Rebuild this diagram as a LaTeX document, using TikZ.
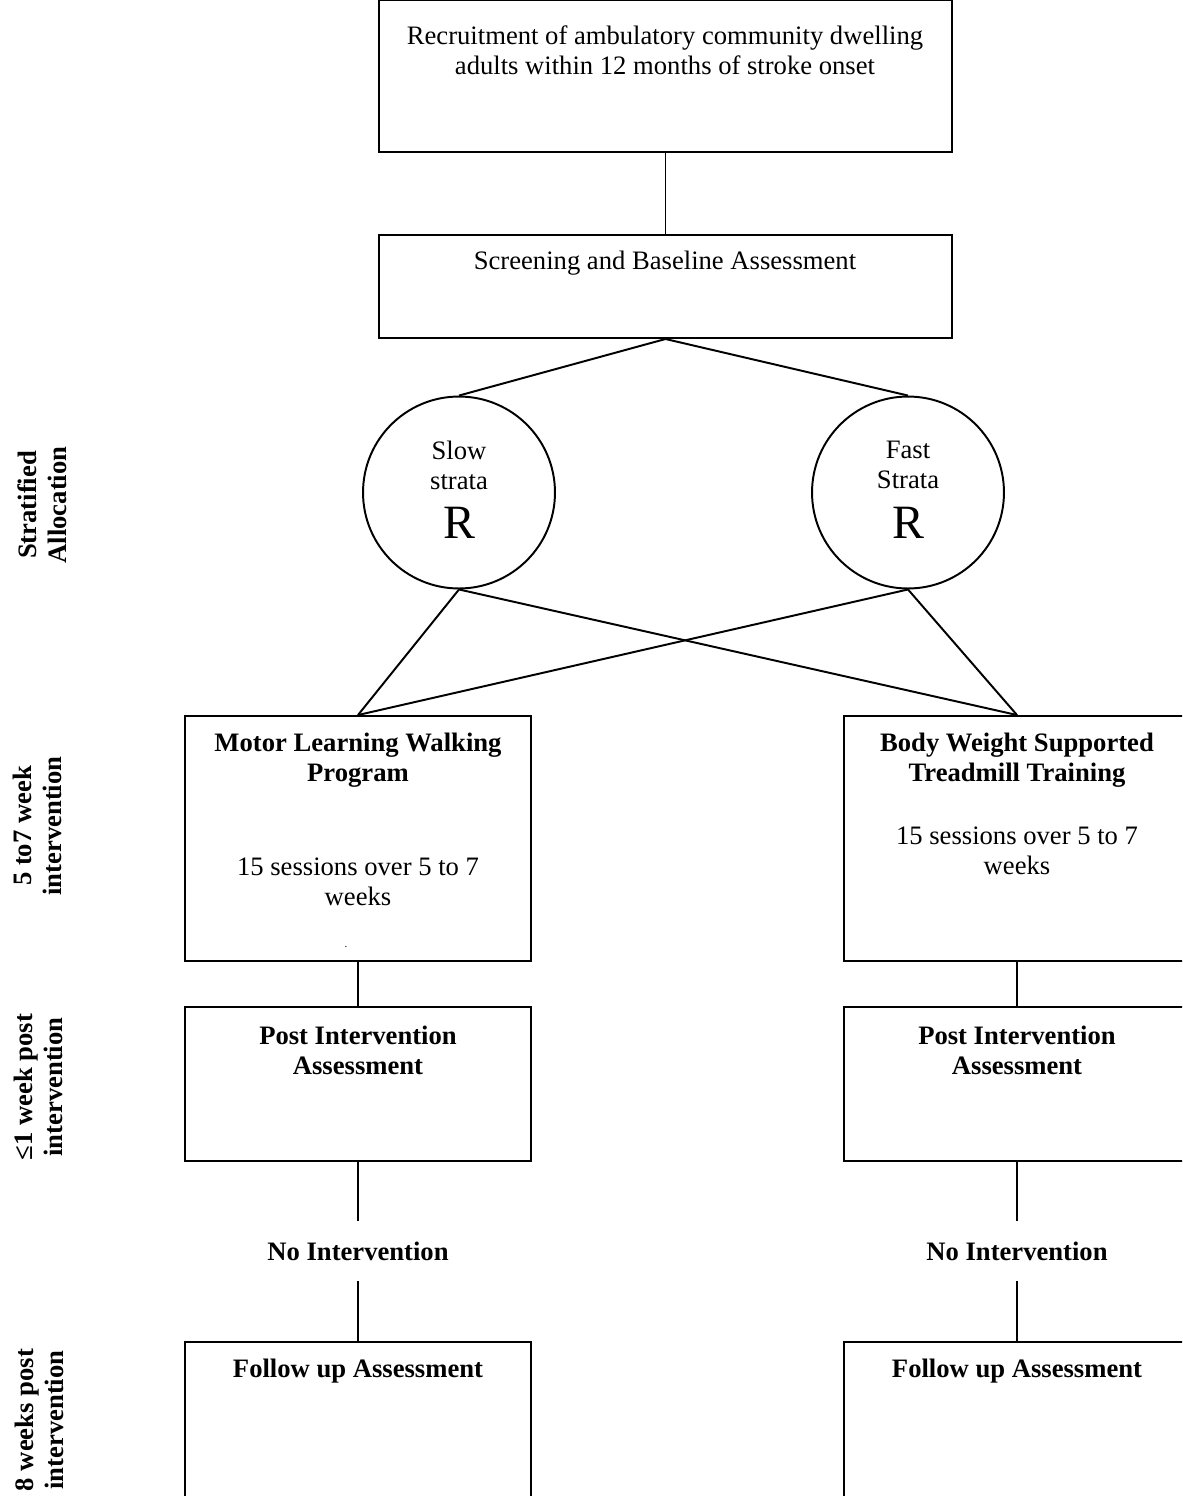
\documentclass[tikz,border=0pt]{standalone}
\usepackage{fontspec}
\setmainfont{Liberation Serif}
\usetikzlibrary{positioning}

\begin{document}
\begin{tikzpicture}[
    x=0.46pt, y=-0.46pt,
    line width=0.9pt,
    every node/.style={font=\fontsize{12.25}{13.8}\selectfont, align=center},
    widebox/.style={rectangle, draw, inner sep=0pt, minimum width=263.6pt},
    armbox/.style={rectangle, draw, inner sep=0pt, minimum width=159.2pt},
    strata/.style={circle, draw, inner sep=0pt, minimum size=88.3pt},
    heading/.style={font=\bfseries\fontsize{12.25}{13.8}\selectfont},
    phase/.style={rotate=90, font=\bfseries\fontsize{12.25}{13.8}\selectfont},
    pause/.style={inner sep=0pt, minimum height=26.7pt, font=\bfseries\fontsize{12.25}{13.8}\selectfont},
    rand/.style={font=\fontsize{22}{26}\selectfont}
]
\useasboundingbox (0,0) rectangle (1182,1496);
\clip (0,0) rectangle (1182,1496);

% RECRUITMENT AND SCREENING
\node[widebox, minimum height=69.9pt] (recruit) at (665.5,76) {};
\node (recruit_txt) at (665,50) {Recruitment of ambulatory community dwelling\\adults within 12 months of stroke onset};

\node[widebox, minimum height=47.4pt] (screen) at (665.5,286.5) {};
\node (screen_txt) at (665,263) {Screening and Baseline Assessment};

% STRATIFIED RANDOMISATION
\node[strata] (slow) at (459,492.5) {};
\node (slow_txt) at (459,465) {Slow\\strata};
\node[rand] (slow_r) at (459,523) {R};

\node[strata] (fast) at (908,492.5) {};
\node (fast_txt) at (908,465) {Fast\\Strata};
\node[rand] (fast_r) at (908,523) {R};

% INTERVENTION ARMS
\node[armbox, minimum height=112.7pt] (mlwp) at (358,838.5) {};
\node[heading] (mlwp_title) at (358,760) {Motor Learning Walking\\Program};
\node (mlwp_dose) at (358,882) {15 sessions over 5 to 7\\weeks};
\node[font=\tiny] (mlwp_dot) at (346,947) {.};

\node[armbox, minimum height=112.7pt] (bwst) at (1017,838.5) {};
\node[heading] (bwst_title) at (1017,760) {Body Weight Supported\\Treadmill Training};
\node (bwst_dose) at (1017,851) {15 sessions over 5 to 7\\weeks};

% POST INTERVENTION
\node[armbox, minimum height=70.8pt] (post_ml) at (358,1084) {};
\node[heading] (post_ml_txt) at (358,1050) {Post Intervention\\Assessment};
\node[armbox, minimum height=70.8pt] (post_bw) at (1017,1084) {};
\node[heading] (post_bw_txt) at (1017,1050) {Post Intervention\\Assessment};

% NO INTERVENTION PERIOD
\node[pause] (none_ml) at (358,1251) {No Intervention};
\node[pause] (none_bw) at (1017,1251) {No Intervention};

% FOLLOW UP
\node[armbox, minimum height=77.3pt] (follow_ml) at (358,1426) {};
\node[heading] (follow_ml_txt) at (358,1371) {Follow up Assessment};
\node[armbox, minimum height=77.3pt] (follow_bw) at (1017,1426) {};
\node[heading] (follow_bw_txt) at (1017,1371) {Follow up Assessment};

% CONNECTORS
\draw (recruit.south) -- (screen.north);
\draw (screen.south) -- (slow.north);
\draw (screen.south) -- (fast.north);
\draw (slow.south) -- (mlwp.north);
\draw (slow.south) -- (bwst.north);
\draw (fast.south) -- (mlwp.north);
\draw (fast.south) -- (bwst.north);
\draw (mlwp.south) -- (post_ml.north);
\draw (bwst.south) -- (post_bw.north);
\draw (post_ml.south) -- (none_ml.north);
\draw (post_bw.south) -- (none_bw.north);
\draw (none_ml.south) -- (follow_ml.north);
\draw (none_bw.south) -- (follow_bw.north);

% Phase labels down the left margin
\node[phase] (phase_alloc) at (42,505) {Stratified\\Allocation};
\node[phase] (phase_int) at (37,826) {5 to7 week\\intervention};
\node[phase] (phase_post) at (38,1087) {≤1 week post\\intervention};
\node[phase] (phase_follow) at (39,1420) {8 weeks post\\intervention};

\end{tikzpicture}
\end{document}
